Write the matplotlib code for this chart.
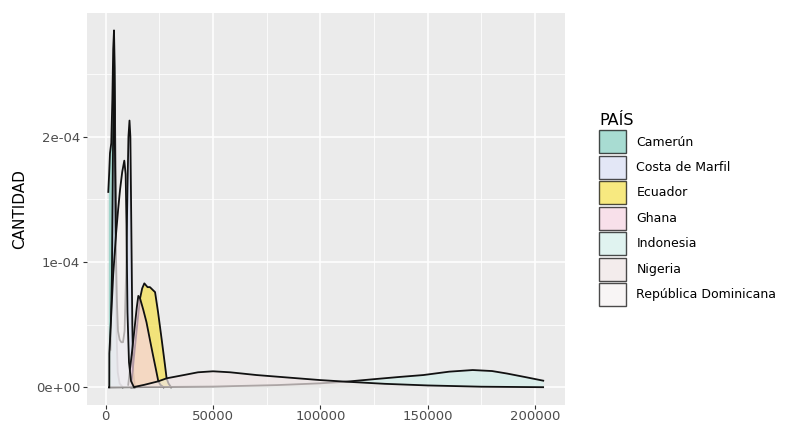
import matplotlib
matplotlib.use("Agg")
import matplotlib.pyplot as plt
from matplotlib.patches import Patch
from matplotlib.ticker import FixedLocator

plt.rcParams['font.family'] = ['DejaVu Sans']

# density curves (x = cantidad, y = density in 1e-4 units)
paises = ["Camerún", "Costa de Marfil", "Ecuador", "Ghana", "Indonesia", "Nigeria", "República Dominicana"]
colores = ["#83cec0", "#d8ddf3", "#f5e04a", "#f6d4e2", "#d3eeea", "#efe5e5", "#f6f1f1"]

cam_x = [1210, 1600, 2000, 2600, 3100, 3500, 3870, 4200, 4500, 4800, 5100, 5600, 6500, 8000]
cam_y = [1.56, 1.70, 1.87, 1.95, 2.30, 2.70, 2.85, 2.55, 1.80, 0.90, 0.40, 0.12, 0.03, 0.0]

civ_x = [2200, 2900, 3400, 3870, 4300, 4800, 5200, 5730, 6500, 7300, 8060, 8800, 9500,
         10160, 10600, 11090, 11500, 11930, 12400, 12860, 13600]
civ_y = [0.3, 0.9, 1.9, 2.6, 1.9, 1.05, 0.7, 0.45, 0.38, 0.36, 0.36, 0.45, 0.9,
         1.6, 2.0, 2.13, 2.0, 1.3, 0.5, 0.12, 0.0]

ecu_x = [11800, 12100, 13500, 15000, 16000, 17000, 17500, 18000, 18500, 19500, 20600,
         21800, 23000, 24400, 26100, 27600, 28400, 29300, 30500]
ecu_y = [0.0, 0.05, 0.30, 0.55, 0.71, 0.79, 0.81, 0.83, 0.82, 0.80, 0.80,
         0.78, 0.76, 0.60, 0.38, 0.18, 0.07, 0.03, 0.0]

gha_x = [10500, 11500, 12500, 13500, 14500, 15200, 16000, 17500, 19000, 20600, 22000, 23500, 24500, 25500, 27000]
gha_y = [0.02, 0.17, 0.32, 0.48, 0.64, 0.73, 0.71, 0.62, 0.52, 0.38, 0.26, 0.135, 0.05, 0.02, 0.0]

ind_x = [1500, 20000, 50000, 80000, 100000, 112000, 125000, 137000, 148000, 160000,
         171000, 180000, 187000, 196000, 203850]
ind_y = [0.0, 0.002, 0.006, 0.018, 0.032, 0.045, 0.065, 0.083, 0.098, 0.125,
         0.138, 0.13, 0.11, 0.08, 0.053]

nga_x = [12500, 18000, 24500, 28400, 37000, 43000, 50000, 58000, 70300, 85000,
         99800, 112000, 130000, 150000, 175000, 203800]
nga_y = [0.0, 0.02, 0.048, 0.072, 0.10, 0.12, 0.128, 0.12, 0.098, 0.078,
         0.058, 0.045, 0.028, 0.015, 0.005, 0.001]

rd_x = [1680, 1700, 2500, 3500, 4800, 5800, 6700, 7700, 8670, 9300, 9700, 10150, 10850, 11800, 13200]
rd_y = [0.0, 0.27, 0.55, 0.9, 1.22, 1.42, 1.58, 1.72, 1.81, 1.7, 1.3, 0.6, 0.2, 0.05, 0.0]

curvas = [(cam_x, cam_y), (civ_x, civ_y), (ecu_x, ecu_y), (gha_x, gha_y),
          (ind_x, ind_y), (nga_x, nga_y), (rd_x, rd_y)]

x_ticks = [0, 50000, 100000, 150000, 200000]
y_ticks = [0, 1e-4, 2e-4]
y_labels = ["0e+00", "1e-04", "2e-04"]

ALPHA = 0.7

fig = plt.figure(figsize=(7.86, 4.23), dpi=100)
ax = fig.add_axes([0.1103, 0.0426, 0.6085, 0.927])
ax.set_facecolor("#ebebeb")

for i, (xs, ys) in enumerate(curvas):
    yy = [v * 1e-4 for v in ys]
    ax.fill_between(xs, yy, 0, color=colores[i], alpha=ALPHA, lw=0, zorder=3 + 2 * i)
    ax.plot(xs, yy, color="#111111", lw=1.3, zorder=4 + 2 * i, solid_joinstyle="round")

ax.set_xlim(-8850, 213980)
ax.set_ylim(-0.141e-4, 2.99e-4)

ax.set_xticks(x_ticks)
ax.set_xticklabels([str(t) for t in x_ticks])
ax.set_yticks(y_ticks)
ax.set_yticklabels(y_labels)
ax.xaxis.set_minor_locator(FixedLocator([25000, 75000, 125000, 175000]))
ax.yaxis.set_minor_locator(FixedLocator([0.5e-4, 1.5e-4, 2.5e-4]))
ax.grid(which="major", color="white", lw=1.1, zorder=0)
ax.grid(which="minor", color="white", lw=0.55, zorder=0)
ax.set_axisbelow(True)
for s in ax.spines.values():
    s.set_visible(False)
ax.tick_params(which="major", length=2.75, width=0.8, color="#333333", labelcolor="#4d4d4d",
               labelsize=9.5)
ax.tick_params(axis="x", pad=1.0)
ax.tick_params(axis="y", pad=2.0)
ax.tick_params(which="minor", length=0)

ax.set_ylabel("CANTIDAD", fontsize=11, color="black", labelpad=6)

handles = [Patch(facecolor=colores[i], edgecolor="black", alpha=ALPHA, lw=1.0) for i in range(len(paises))]
leg = fig.legend(handles, paises, loc="center left", bbox_to_anchor=(0.7545, 0.505),
                 frameon=False, fontsize=9, title="PAÍS", title_fontsize=11.5,
                 handlelength=2.16, handleheight=2.45, labelspacing=0.2, handletextpad=0.8,
                 borderpad=0, alignment="left")
for h in leg.legend_handles:
    h.set_edgecolor("black")

fig.savefig("out.png", dpi=100)
